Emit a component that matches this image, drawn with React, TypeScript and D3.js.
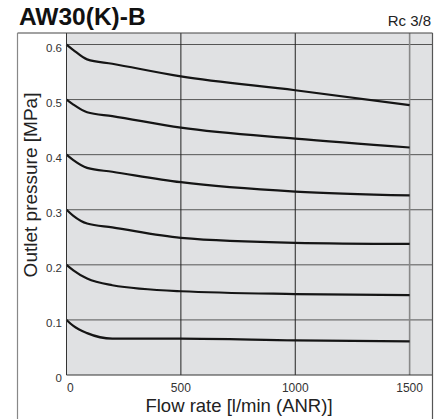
import React from "react";
import * as d3 from "d3";

const title = "AW30(K)-B";
const portLabel = "Rc 3/8";
const xTitle = "Flow rate [l/min (ANR)]";
const yTitle = "Outlet pressure [MPa]";

const flow = [0, 30, 90, 200, 500, 1000, 1500];
const p06 = [0.6, 0.59, 0.573, 0.565, 0.542, 0.517, 0.49];
const p05 = [0.5, 0.491, 0.477, 0.47, 0.449, 0.429, 0.413];
const p04 = [0.4, 0.39, 0.376, 0.369, 0.35, 0.333, 0.326];
const p03 = [0.3, 0.289, 0.275, 0.268, 0.249, 0.24, 0.238];
const p02 = [0.2, 0.19, 0.175, 0.163, 0.152, 0.147, 0.145];
const p01 = [0.1, 0.089, 0.076, 0.066, 0.066, 0.063, 0.061];
const series = [p06, p05, p04, p03, p02, p01];

const xTicks = [0, 500, 1000, 1500];
const yTicks = [0, 0.1, 0.2, 0.3, 0.4, 0.5, 0.6];
const yTickLabels = ["0", "0.1", "0.2", "0.3", "0.4", "0.5", "0.6"];

export default function App() {
  const W = 442, H = 419;
  const left = 66.5, right = 432.5, top = 33, bottom = 375;
  const frameLeft = 17.5;
  const x = d3.scaleLinear().domain([0, 1600]).range([left, right]);
  const y = d3.scaleLinear().domain([0, 0.6]).range([bottom, 44.5]);
  const line = d3
    .line<number>()
    .x((_, i) => x(flow[i]))
    .y((d) => y(d))
    .curve(d3.curveMonotoneX);
  const font = "'Liberation Sans', Arial, Helvetica, sans-serif";
  return (
    <svg width={W} height={H} style={{ position: "absolute", left: 0, top: 0 }} fontFamily={font}>
      <rect x={0} y={0} width={W} height={H} fill="#fff" />
      <text x={19} y={24.5} fontSize={24.5} fontWeight="bold" fill="#111">{title}</text>
      <text x={431} y={26} fontSize={15} textAnchor="end" fill="#222">{portLabel}</text>
      <rect x={left} y={top} width={right - left} height={bottom - top} fill="#e0e1e3" />
      {yTicks.slice(1).map((t) => (
        <line key={"h" + t} x1={left} x2={right} y1={y(t)} y2={y(t)} stroke="#555" strokeWidth={1} />
      ))}
      {xTicks.slice(1).map((t) => (
        <line key={"v" + t} x1={x(t)} x2={x(t)} y1={top} y2={bottom}
          stroke={t === 1500 ? "#888" : "#222"} strokeWidth={t === 1500 ? 1.6 : 1} />
      ))}
      {series.map((s, i) => (
        <path key={i} d={line(s) || ""} fill="none" stroke="#151515" strokeWidth={2.2} />
      ))}
      <line x1={left} x2={left} y1={top} y2={bottom} stroke="#333" strokeWidth={1} />
      <line x1={left} x2={right} y1={bottom} y2={bottom} stroke="#333" strokeWidth={1} />
      <line x1={frameLeft} x2={right} y1={top} y2={top} stroke="#444" strokeWidth={1.2} />
      <line x1={frameLeft} x2={frameLeft} y1={top} y2={H} stroke="#888" strokeWidth={1.2} />
      <line x1={right} x2={right} y1={top} y2={H} stroke="#555" strokeWidth={1.2} />
      {yTicks.map((t, i) => (
        <text key={"yl" + t} x={62} y={y(t) + 7} fontSize={11.5} textAnchor="end" fill="#333">
          {yTickLabels[i]}
        </text>
      ))}
      {xTicks.map((t) => (
        <text key={"xl" + t} x={t === 0 ? x(t) + 0.5 : x(t)} y={392} fontSize={12}
          textAnchor={t === 0 ? "start" : "middle"} fill="#333">
          {String(t)}
        </text>
      ))}
      <text x={239} y={411.5} fontSize={18.5} textAnchor="middle" fill="#222">{xTitle}</text>
      <text transform={`translate(37,185) rotate(-90)`} fontSize={19} textAnchor="middle" fill="#222">
        {yTitle}
      </text>
    </svg>
  );
}
